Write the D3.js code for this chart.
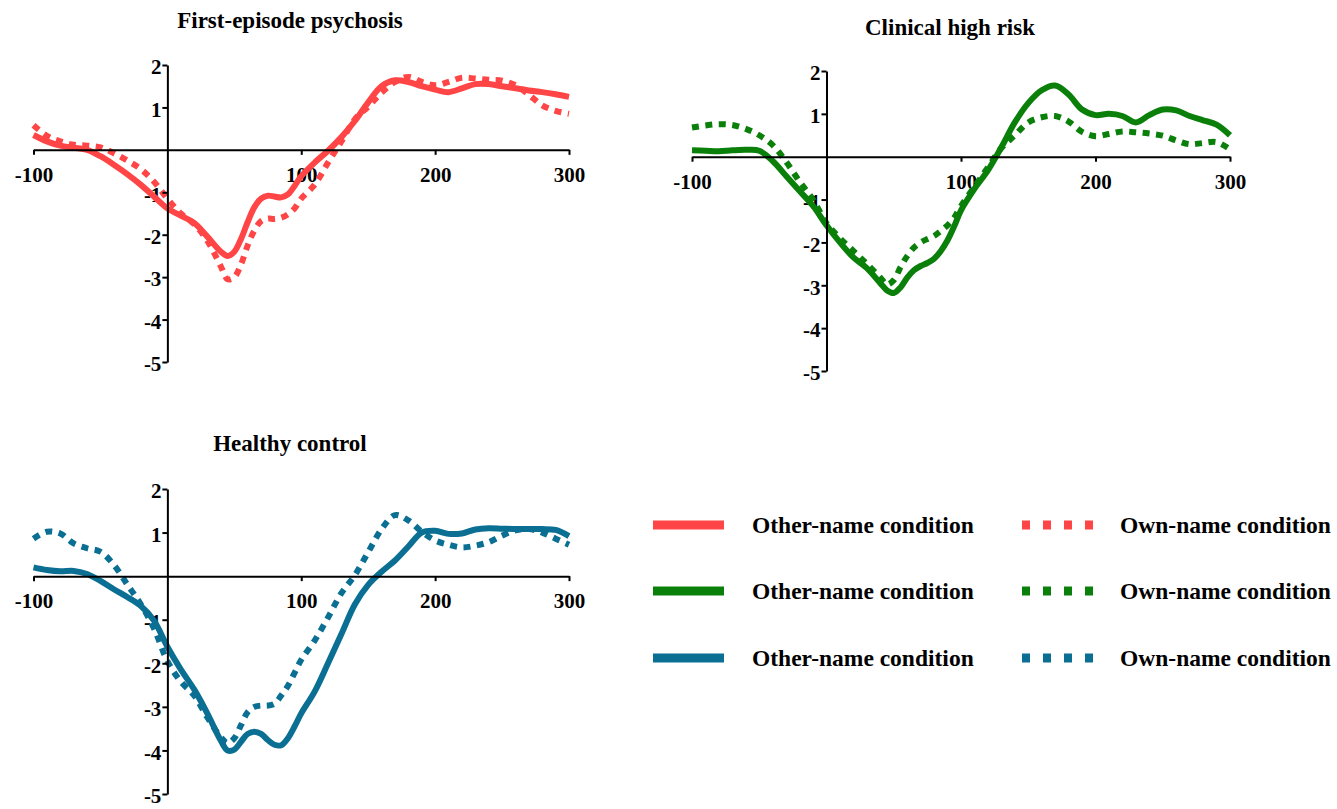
<!DOCTYPE html>
<html>
<head>
<meta charset="utf-8">
<script src="https://cdn.jsdelivr.net/npm/d3@7"></script>
<style>
  body { margin: 0; background: #fff; }
  text { font-family: "Times New Roman", "Liberation Serif", serif; font-weight: bold; }
</style>
</head>
<body>
<script>
// ERP difference waves, three groups x two conditions

var times = [-100,-90,-80,-70,-60,-50,-40,-30,-20,-10,0,10,20,30,40,
	45,50,55,60,65,70,75,80,85,90,95,100,
	110,120,130,140,150,160,170,180,190,200,210,220,230,240,250,260,270,280,290,300];

var fepOther = [0.35,0.2,0.1,0.05,0,-0.15,-0.35,-0.57,-0.82,-1.1,-1.38,-1.55,-1.72,-2.05,-2.4,
	-2.5,-2.4,-2.1,-1.7,-1.35,-1.15,-1.08,-1.1,-1.12,-1.05,-0.85,-0.62,
	-0.3,-0.02,0.3,0.68,1.12,1.5,1.64,1.6,1.5,1.42,1.36,1.45,1.55,1.55,1.5,1.45,1.4,1.36,1.31,1.25];
var fepOwn = [0.58,0.33,0.2,0.12,0.1,0.06,-0.08,-0.25,-0.45,-0.75,-1.15,-1.5,-1.75,-2.15,-2.75,
	-3.05,-3.0,-2.7,-2.25,-1.9,-1.68,-1.62,-1.63,-1.6,-1.52,-1.38,-1.15,
	-0.82,-0.3,0.2,0.72,1.02,1.35,1.6,1.72,1.6,1.52,1.6,1.7,1.68,1.65,1.63,1.52,1.3,1.05,0.92,0.85];

var chrOther = [0.15,0.14,0.13,0.15,0.16,0.14,-0.1,-0.45,-0.8,-1.15,-1.6,-2.0,-2.35,-2.6,-2.95,
	-3.12,-3.18,-3.05,-2.82,-2.65,-2.55,-2.48,-2.38,-2.2,-1.95,-1.62,-1.25,
	-0.75,-0.32,0.22,0.8,1.25,1.55,1.66,1.45,1.1,0.97,1.0,0.95,0.8,0.97,1.1,1.08,0.95,0.85,0.75,0.5];
var chrOwn = [0.68,0.73,0.76,0.74,0.65,0.5,0.27,-0.12,-0.58,-1.0,-1.55,-1.9,-2.2,-2.5,-2.82,
	-2.98,-2.88,-2.58,-2.32,-2.12,-2.0,-1.92,-1.85,-1.73,-1.6,-1.42,-1.15,
	-0.7,-0.25,0.2,0.5,0.8,0.92,0.95,0.82,0.58,0.48,0.53,0.59,0.57,0.54,0.49,0.38,0.29,0.32,0.34,0.17];

var hcOther = [0.2,0.14,0.11,0.12,0.05,-0.11,-0.3,-0.48,-0.68,-1.02,-1.62,-2.14,-2.6,-3.16,-3.78,
	-4.0,-3.98,-3.8,-3.62,-3.57,-3.62,-3.76,-3.87,-3.88,-3.72,-3.45,-3.15,
	-2.65,-2.0,-1.33,-0.65,-0.2,0.1,0.36,0.68,1.0,1.04,0.97,0.98,1.07,1.1,1.09,1.08,1.08,1.08,1.06,0.92];
var hcOwn = [0.86,1.02,0.98,0.75,0.64,0.56,0.26,-0.19,-0.64,-1.2,-1.95,-2.42,-2.74,-3.25,-3.7,
	-3.83,-3.72,-3.42,-3.12,-3.0,-2.97,-2.97,-2.93,-2.74,-2.52,-2.22,-1.92,
	-1.48,-0.95,-0.39,0.02,0.55,1.08,1.4,1.28,1.02,0.82,0.72,0.66,0.7,0.78,0.93,1.05,1.08,1.0,0.86,0.72];

var panelTitles = ['First-episode psychosis', 'Clinical high risk', 'Healthy control'];
var xTicks = [-100, 100, 200, 300];
var yTicks = [2, 1, -1, -2, -3, -4, -5];
var legendLabels = ['Other-name condition', 'Own-name condition'];
var colors = ['#FF4545', '#0A800A', '#0A6F93'];

var width = 1337,
	height = 809;

var svg = d3.select('body').append('svg')
	.attr('width', width)
	.attr('height', height);

var panels = [
	{title: panelTitles[0], other: fepOther, own: fepOwn, color: colors[0],
		left: 33.5, right: 569, top: 65, bottom: 362, tx: 290, ty: 28},
	{title: panelTitles[1], other: chrOther, own: chrOwn, color: colors[1],
		left: 692, right: 1230, top: 71, bottom: 371, tx: 950, ty: 35},
	{title: panelTitles[2], other: hcOther, own: hcOwn, color: colors[2],
		left: 33.5, right: 569, top: 489, bottom: 794, tx: 290, ty: 451}
];

function styleAxis(sel) {
	sel.attr('font-size', null).attr('font-family', null);
	sel.selectAll('path, line').attr('stroke', '#000').attr('stroke-width', 2);
	sel.selectAll('text').attr('fill', '#000').style('font-size', '21px');
}

panels.forEach(function(p) {
	var x = d3.scaleLinear().domain([-100, 300]).range([p.left, p.right]);
	var y = d3.scaleLinear().domain([2, -5]).range([p.top, p.bottom]);
	var g = svg.append('g');

	var xAxis = d3.axisBottom(x).tickValues(xTicks).tickSize(5).tickPadding(12)
		.tickSizeOuter(0).tickFormat(function(d){ return String(d); });
	var yAxis = d3.axisLeft(y).tickValues(yTicks).tickSize(5).tickPadding(1)
		.tickSizeOuter(0).tickFormat(function(d){ return String(d); });

	// labels under the curves
	var lx = g.append('g').attr('transform', 'translate(0,' + y(0) + ')').call(xAxis).call(styleAxis);
	lx.selectAll('path, line').remove();
	var ly = g.append('g').attr('transform', 'translate(' + x(0) + ',0)').call(yAxis).call(styleAxis);
	ly.selectAll('path, line').remove();
	ly.selectAll('text').attr('dy', '0.42em');

	var line = d3.line()
		.x(function(d, i){ return x(times[i]); })
		.y(function(d){ return y(d); })
		.curve(d3.curveCatmullRom);

	g.append('path')
		.datum(p.other)
		.attr('d', line)
		.attr('fill', 'none')
		.attr('stroke', p.color)
		.attr('stroke-width', 6);

	g.append('path')
		.datum(p.own)
		.attr('d', line)
		.attr('fill', 'none')
		.attr('stroke', p.color)
		.attr('stroke-width', 6)
		.attr('stroke-dasharray', '7,6.5');

	// axis lines on top
	var ax = g.append('g').attr('transform', 'translate(0,' + y(0) + ')').call(xAxis).call(styleAxis);
	ax.selectAll('text').remove();
	var ay = g.append('g').attr('transform', 'translate(' + x(0) + ',0)').call(yAxis).call(styleAxis);
	ay.selectAll('text').remove();

	g.append('text')
		.attr('x', p.tx)
		.attr('y', p.ty)
		.attr('text-anchor', 'middle')
		.style('font-size', '23px')
		.text(p.title);
});

// legend
var legendRows = [525, 591, 658];
colors.forEach(function(c, i) {
	var yy = legendRows[i];
	svg.append('line')
		.attr('x1', 653).attr('x2', 724)
		.attr('y1', yy).attr('y2', yy)
		.attr('stroke', c).attr('stroke-width', 9);
	svg.append('text')
		.attr('x', 752).attr('y', yy + 8)
		.style('font-size', '23.5px')
		.text(legendLabels[0]);
	svg.append('line')
		.attr('x1', 1022).attr('x2', 1093)
		.attr('y1', yy).attr('y2', yy)
		.attr('stroke', c).attr('stroke-width', 9)
		.attr('stroke-dasharray', '8,13');
	svg.append('text')
		.attr('x', 1120).attr('y', yy + 8)
		.style('font-size', '23.5px')
		.text(legendLabels[1]);
});
</script>
</body>
</html>
